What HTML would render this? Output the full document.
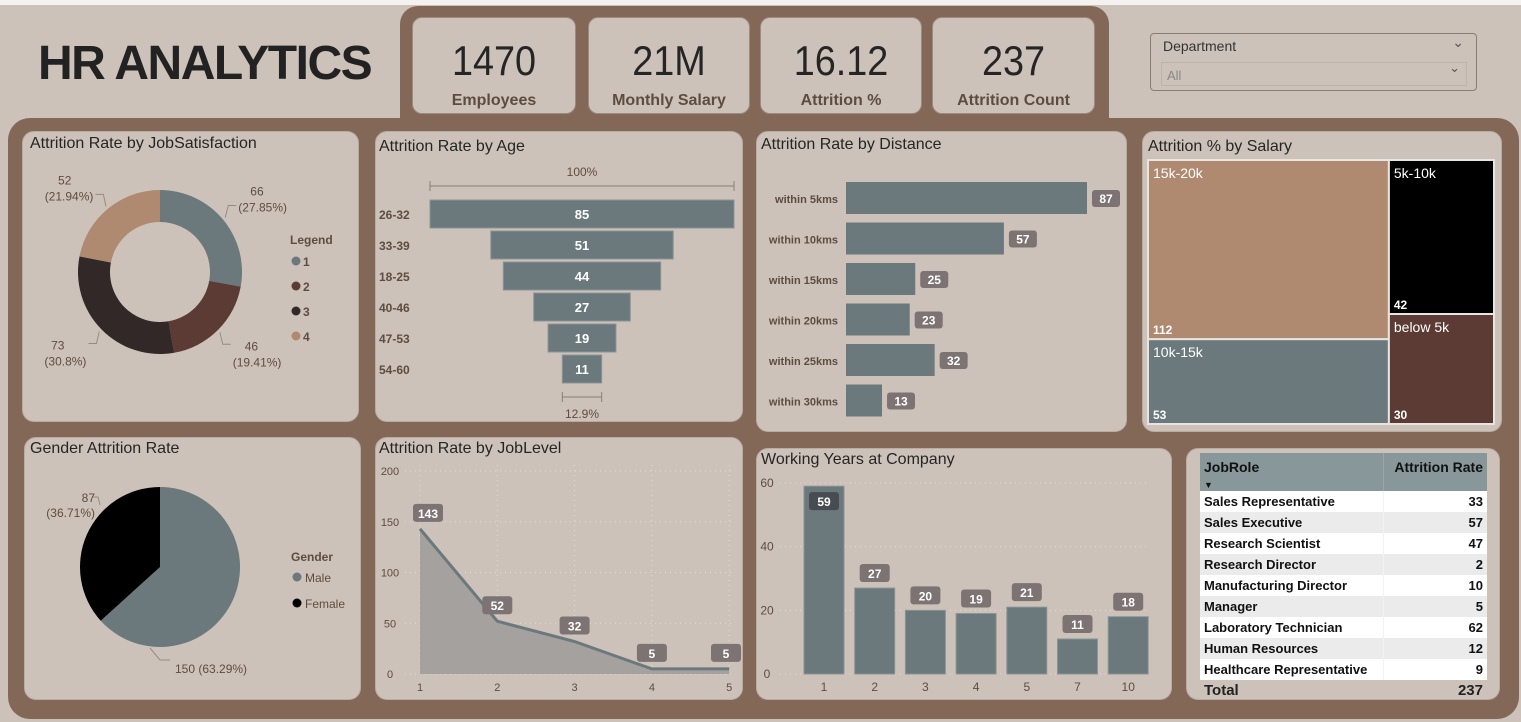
<!DOCTYPE html>
<html><head><meta charset="utf-8"><style>
*{margin:0;padding:0;box-sizing:border-box}
body{width:1521px;height:722px;background:#cdc2b9;font-family:"Liberation Sans",sans-serif;position:relative;overflow:hidden}
.abs{position:absolute}
.card{position:absolute;background:#cdc2b9;border:1px solid #b9aca2;border-radius:12px}
.kpi{position:absolute;background:#cdc2b9;border:1px solid #9c8c80;border-radius:10px;text-align:center}
.kpi .v{font-size:42px;color:#252525;margin-top:20px;line-height:46px;transform:scaleX(.9)}
.kpi .l{font-size:16px;font-weight:bold;color:#5d4c42;margin-top:8px}
.title{position:absolute;font-size:16px;color:#252525}
svg text{font-family:"Liberation Sans",sans-serif}
table{border-collapse:collapse;font-size:13px;font-weight:bold;color:#111}
</style></head><body>
<div class="abs" style="left:0;top:0;width:1521px;height:5px;background:#f4f2f0"></div>
<div class="abs" style="left:400px;top:6px;width:709px;height:125px;background:#836858;border-radius:18px 18px 0 0"></div>
<div class="abs" style="left:8px;top:118px;width:1511px;height:601px;background:#836858;border-radius:22px"></div>
<div class="abs" style="left:38px;top:36px;font-size:48px;font-weight:bold;color:#222;letter-spacing:-1.5px">HR ANALYTICS</div>

<div class="kpi" style="left:412px;top:17px;width:164px;height:97px"><div class="v">1470</div><div class="l">Employees</div></div>
<div class="kpi" style="left:588px;top:17px;width:162px;height:97px"><div class="v">21M</div><div class="l">Monthly Salary</div></div>
<div class="kpi" style="left:760px;top:17px;width:162px;height:97px"><div class="v">16.12</div><div class="l">Attrition %</div></div>
<div class="kpi" style="left:932px;top:17px;width:163px;height:97px"><div class="v">237</div><div class="l">Attrition Count</div></div>

<div class="abs" style="left:1150px;top:33px;width:327px;height:58px;border:1px solid #8a7d74;border-radius:4px">
 <div style="position:absolute;left:12px;top:4px;font-size:14px;color:#333">Department</div>
 <div style="position:absolute;right:12px;top:0;font-size:14px;color:#555">&#8964;</div>
 <div style="position:absolute;left:10px;top:28px;width:306px;height:24px;border:1px solid #bfb2a8;font-size:13px;color:#888;padding:5px 0 0 5px">All<span style="position:absolute;right:6px;top:-3px;color:#555">&#8964;</span></div>
</div>

<div class="card" style="left:22px;top:131px;width:337px;height:291px"></div>
<div class="card" style="left:375px;top:131px;width:368px;height:291px"></div>
<div class="card" style="left:756px;top:131px;width:371px;height:301px"></div>
<div class="card" style="left:1142px;top:131px;width:360px;height:301px"></div>
<div class="card" style="left:24px;top:437px;width:337px;height:263px"></div>
<div class="card" style="left:375px;top:437px;width:368px;height:263px"></div>
<div class="card" style="left:756px;top:448px;width:416px;height:252px"></div>
<div class="card" style="left:1186px;top:448px;width:314px;height:252px"></div>

<div class="title" style="left:30px;top:135px">Attrition Rate by JobSatisfaction</div>
<div class="title" style="left:379px;top:138px">Attrition Rate by Age</div>
<div class="title" style="left:761px;top:136px">Attrition Rate by Distance</div>
<div class="title" style="left:1148px;top:138px">Attrition % by Salary</div>
<div class="title" style="left:30px;top:440px">Gender Attrition Rate</div>
<div class="title" style="left:379px;top:440px">Attrition Rate by JobLevel</div>
<div class="title" style="left:761px;top:451px">Working Years at Company</div>

<div class="abs" style="left:1200px;top:453px;width:287px">
<table style="width:287px" id="tbl">
<tr style="background:#87979a;height:35px"><th style="text-align:left;padding:0 4px;font-size:14px;vertical-align:top;padding-top:6px;border-right:1px solid #9aa8aa">JobRole<br><span style="font-size:9px">&#9660;</span></th><th style="text-align:right;padding:0 4px;font-size:14px;vertical-align:top;padding-top:6px">Attrition Rate</th></tr>
</table>
<div style="display:flex;justify-content:space-between;font-size:15px;font-weight:bold;padding:2px 4px 0;color:#222"><span>Total</span><span>237</span></div>
</div>

<svg id="s" class="abs" style="left:0;top:0" width="1521" height="722"></svg>

<script>
const satCats=['1','2','3','4'];
const satVals=[66,46,73,52];
const satLabels=['66\n(27.85%)','46\n(19.41%)','73\n(30.8%)','52\n(21.94%)'];
const ageCats=['26-32','33-39','18-25','40-46','47-53','54-60'];
const ageVals=[85,51,44,27,19,11];
const distCats=['within 5kms','within 10kms','within 15kms','within 20kms','within 25kms','within 30kms'];
const distVals=[87,57,25,23,32,13];
const salCats=['15k-20k','10k-15k','5k-10k','below 5k'];
const salVals=[112,53,42,30];
const genCats=['Male','Female'];
const genVals=[150,87];
const lvlCats=['1','2','3','4','5'];
const lvlVals=[143,52,32,5,5];
const lvlTicks=[0,50,100,150,200];
const yrCats=['1','2','3','4','5','7','10'];
const yrVals=[59,27,20,19,21,11,18];
const yrTicks=[0,20,40,60];
const roleCats=['Sales Representative','Sales Executive','Research Scientist','Research Director','Manufacturing Director','Manager','Laboratory Technician','Human Resources','Healthcare Representative'];
const roleVals=[33,57,47,2,10,5,62,12,9];

const S=document.getElementById('s');const NS='http://www.w3.org/2000/svg';
function el(t,a,txt){const e=document.createElementNS(NS,t);for(const k in a)e.setAttribute(k,a[k]);if(txt!==undefined)e.textContent=txt;S.appendChild(e);return e;}
const TEAL='#6b787c',TXT='#5d4c42';
function arc(cx,cy,r,r0,a0,a1){const p=(a,rr)=>[cx+rr*Math.sin(a),cy-rr*Math.cos(a)];const l=a1-a0>Math.PI?1:0;const [x1,y1]=p(a0,r),[x2,y2]=p(a1,r);
 if(r0===0)return `M${cx},${cy}L${x1},${y1}A${r},${r} 0 ${l} 1 ${x2},${y2}Z`;
 const [x3,y3]=p(a1,r0),[x4,y4]=p(a0,r0);return `M${x1},${y1}A${r},${r} 0 ${l} 1 ${x2},${y2}L${x3},${y3}A${r0},${r0} 0 ${l} 0 ${x4},${y4}Z`;}

// donut
(function(){const cx=160,cy=272,R=82,r0=50,cols=['#6b787c','#5b3b33','#332828','#b08a70'];const tot=satVals.reduce((a,b)=>a+b,0);let a=0;
satVals.forEach((v,i)=>{const a1=a+v/tot*2*Math.PI;const p=el('path',{d:arc(cx,cy,R,r0,a,a1),fill:cols[i]});

const m=(a+a1)/2,sx=Math.sin(m),sy=-Math.cos(m);
// leader from ring edge
const ex=cx+(R+3)*sx,ey=cy+(R+3)*sy;const kx=ex+(sx>0?-6:6)*0+sx*4,ky=ey+(sy>0?12:-12);
const hx=kx+(sx>0?8:-8);
el('polyline',{points:`${ex},${ey} ${kx},${ky} ${hx},${ky}`,fill:'none',stroke:'#998a80'});
const parts=satLabels[i].split('\n');
const tx=sx>0?hx+2:hx-2;const anchor=sx>0?'start':'end';
const y1=sy<0?ky-10:ky+6;
el('text',{x:sx>0?tx+12:tx-22,y:y1,'font-size':12,fill:TXT,'text-anchor':anchor},parts[0]);
el('text',{x:tx,y:y1+16,'font-size':12,fill:TXT,'text-anchor':anchor},parts[1]);
a=a1;});
el('text',{x:290,y:244,'font-size':12,'font-weight':'bold',fill:TXT},'Legend');
satCats.forEach((c,i)=>{el('circle',{cx:296,cy:261+i*25,r:4.5,fill:cols[i]});const t=el('text',{x:303,y:266+i*25,'font-size':12,'font-weight':'bold',fill:TXT},c);});})();

// funnel
(function(){const cx=582,maxW=304,top=200,step=31,h=28;const mx=Math.max(...ageVals);
el('text',{x:cx,y:176,'font-size':12,fill:TXT,'text-anchor':'middle'},'100%');
el('path',{d:`M430,181V191M430,186H734M734,181V191`,stroke:'#8a7d74',fill:'none'});
ageVals.forEach((v,i)=>{const w=v/mx*maxW,y=top+i*step;const r=el('rect',{x:cx-w/2,y:y,width:w,height:h,fill:TEAL,stroke:'#8a9497'});
el('text',{x:cx,y:y+19,'font-size':13,'font-weight':'bold',fill:'#fff','text-anchor':'middle'},v);
el('text',{x:379,y:y+19,'font-size':12,'font-weight':'bold',fill:TXT},ageCats[i]);});
const lw=ageVals[ageVals.length-1]/mx*maxW;el('path',{d:`M${cx-lw/2},392V402M${cx-lw/2},397H${cx+lw/2}M${cx+lw/2},392V402`,stroke:'#8a7d74',fill:'none'});
el('text',{x:cx,y:418,'font-size':12,fill:TXT,'text-anchor':'middle'},(ageVals[ageVals.length-1]/mx*100).toFixed(1)+'%');})();

// distance
(function(){const x0=846,sc=241/87,top=182,step=40.5,h=32;
distVals.forEach((v,i)=>{const y=top+i*step,w=v*sc;const r=el('rect',{x:x0,y:y,width:w,height:h,fill:TEAL});
el('text',{x:838,y:y+21,'font-size':11,'font-weight':'bold',fill:TXT,'text-anchor':'end'},distCats[i]);
el('rect',{x:x0+w+5,y:y+8,width:28,height:17,rx:3,fill:'#7d7373'});el('text',{x:x0+w+19,y:y+21,'font-size':12,'font-weight':'bold',fill:'#fff','text-anchor':'middle'},v);});})();

// treemap
(function(){const X=1148,Y=160,W=346,H=264;const tot=salVals.reduce((a,b)=>a+b,0);const lw=(salVals[0]+salVals[1])/tot*W;
const cols=['#b08a70','#6b787c','#000','#5b3b33'];
const h0=salVals[0]/(salVals[0]+salVals[1])*H,h2=salVals[2]/(salVals[2]+salVals[3])*H;
const rects=[[X,Y,lw,h0],[X,Y+h0,lw,H-h0],[X+lw,Y,W-lw,h2],[X+lw,Y+h2,W-lw,H-h2]];
rects.forEach((r,i)=>{const e=el('rect',{x:r[0],y:r[1],width:r[2],height:r[3],fill:cols[i],stroke:'#e8e4e0','stroke-width':2});
el('text',{x:r[0]+5,y:r[1]+18,'font-size':14,fill:'#fff'},salCats[i]);el('text',{x:r[0]+5,y:r[1]+r[3]-5,'font-size':12,'font-weight':'bold',fill:'#fff'},salVals[i]);});})();

// gender pie
(function(){const cx=160,cy=567,R=80,cols=['#6b787c','#000'];const tot=genVals[0]+genVals[1];let a=0;
genVals.forEach((v,i)=>{const a1=a+v/tot*2*Math.PI;const p=el('path',{d:arc(cx,cy,R,0,a,a1),fill:cols[i]});a=a1;});
el('polyline',{points:'150,648 160,660 170,660',fill:'none',stroke:'#998a80'});
el('text',{x:175,y:673,'font-size':12,fill:TXT},genVals[0]+' ('+(genVals[0]/tot*100).toFixed(2)+'%)');
el('polyline',{points:'100,505 98,497 92,497',fill:'none',stroke:'#998a80'});
el('text',{x:95,y:502,'font-size':12,fill:TXT,'text-anchor':'end'},genVals[1]);el('text',{x:95,y:517,'font-size':12,fill:TXT,'text-anchor':'end'},'('+(genVals[1]/tot*100).toFixed(2)+'%)');
el('text',{x:291,y:561,'font-size':12,'font-weight':'bold',fill:TXT},'Gender');
genCats.forEach((c,i)=>{el('circle',{cx:297,cy:577+i*26,r:4.5,fill:cols[i]});el('text',{x:305,y:582+i*26,'font-size':12,fill:TXT},c);});})();

// joblevel area
(function(){const X=i=>420+i*77.3,Y=v=>674-v*(203/200);
lvlTicks.forEach(t=>{el('line',{x1:405,x2:735,y1:Y(t),y2:Y(t),stroke:'#e2dbd5','stroke-dasharray':'1,4'});el('text',{x:390,y:Y(t)+4,'font-size':11,fill:TXT,'text-anchor':'middle'},t);});
lvlCats.forEach((c,i)=>{el('line',{x1:X(i),x2:X(i),y1:465,y2:674,stroke:'#e2dbd5','stroke-dasharray':'1,4'});el('text',{x:X(i),y:691,'font-size':11,fill:TXT,'text-anchor':'middle'},c);});
const pts=lvlVals.map((v,i)=>X(i)+','+Y(v)).join(' ');
el('polygon',{points:`${X(0)},${Y(0)} ${pts} ${X(lvlVals.length-1)},${Y(0)}`,fill:'#a4a19f'});
const l=el('polyline',{points:pts,fill:'none',stroke:'#6b787c','stroke-width':3});
lvlVals.forEach((v,i)=>{const x=Math.max(Math.min(X(i),726),428),y=Y(v)-16;el('rect',{x:x-15,y:y-9,width:30,height:18,rx:3,fill:'#7d7373'});el('text',{x:x,y:y+5,'font-size':12,'font-weight':'bold',fill:'#fff','text-anchor':'middle'},v);});})();

// working years
(function(){const X=i=>824+i*50.7,Y=v=>674-v*(191/60),bw=40;
yrTicks.forEach(t=>{el('line',{x1:780,x2:1150,y1:Y(t),y2:Y(t),stroke:'#e2dbd5','stroke-dasharray':'1,4'});el('text',{x:767,y:Y(t)+4,'font-size':12,fill:TXT,'text-anchor':'middle'},t);});
yrVals.forEach((v,i)=>{const r=el('rect',{x:X(i)-bw/2,y:Y(v),width:bw,height:Y(0)-Y(v),fill:TEAL,stroke:'#8a9497'});
el('text',{x:X(i),y:691,'font-size':12,fill:TXT,'text-anchor':'middle'},yrCats[i]);
const inside=i===0;const by=inside?Y(v)+6:Y(v)-24;el('rect',{x:X(i)-15,y:by,width:30,height:18,rx:3,fill:inside?'#474c52':'#7d7373'});el('text',{x:X(i),y:by+14,'font-size':12,'font-weight':'bold',fill:'#fff','text-anchor':'middle'},v);});})();

// table
(function(){const t=document.getElementById('tbl');roleCats.forEach((c,i)=>{const tr=document.createElement('tr');tr.style.background=i%2?'#ebebeb':'#fff';tr.style.height='21px';


tr.innerHTML=`<td style="padding:0 4px;border-right:1px solid #f2f2f2">${c}</td><td style="text-align:right;padding:0 4px">${roleVals[i]}</td>`;t.appendChild(tr);});})();
</script>
</body></html>
